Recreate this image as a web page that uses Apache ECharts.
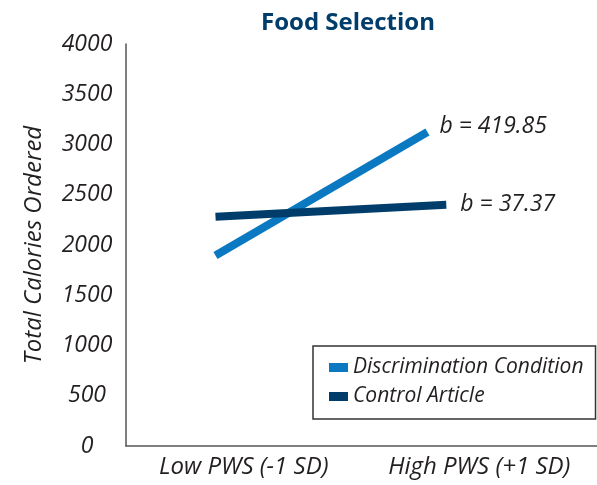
<!DOCTYPE html>
<html>
<head>
<meta charset="utf-8">
<script src="https://cdn.jsdelivr.net/npm/echarts@6/dist/echarts.min.js"></script>
<style>
html,body{margin:0;padding:0;background:#fff;}
#chart{width:597px;height:485px;}
</style>
</head>
<body>
<div id="chart"></div>
<script>
var categories = ['Low PWS (-1 SD)', 'High PWS (+1 SD)'];
var yTicks = [0, 500, 1000, 1500, 2000, 2500, 3000, 3500, 4000];
var seriesNames = ['Discrimination Condition', 'Control Article'];
var discrimX = [-0.12, 0.78];
var discrimY = [1895, 3125];
var controlX = [-0.12, 0.86];
var controlY = [2280, 2400];
var slopeLabels = ['b = 419.85', 'b = 37.37'];

var FONT = '"Open Sans", "Noto Sans", sans-serif';
var C1 = '#0a79c2';
var C2 = '#003d6b';

function pts(xs, ys) {
  return xs.map(function (x, i) { return [x, ys[i]]; });
}

var chart = echarts.init(document.getElementById('chart'), null, { renderer: 'canvas' });
chart.setOption({
  animation: false,
  backgroundColor: '#fff',
  title: {
    text: 'Food Selection', left: 343, top: 6, textAlign: 'center',
    textStyle: { fontFamily: FONT, fontWeight: 'bold', fontSize: 24, color: C2 }
  },
  legend: {
    orient: 'vertical', left: 313, top: 346,
    padding: [11, 12, 12, 16], itemGap: 8, itemWidth: 19, itemHeight: 9,
    borderColor: '#333', borderWidth: 1.5,
    icon: 'rect',
    textStyle: { fontFamily: FONT, fontStyle: 'italic', fontSize: 21, color: '#231f20' },
    data: seriesNames
  },
  grid: { left: 126, right: 0, top: 44, bottom: 39 },
  xAxis: [{
    type: 'category', data: categories, boundaryGap: true,
    axisLine: { lineStyle: { color: '#555', width: 1.5 } },
    axisTick: { show: false },
    axisLabel: { interval: 0, hideOverlap: false, fontFamily: FONT, fontStyle: 'italic', fontSize: 24, color: '#231f20', margin: 9 }
  }, {
    type: 'value', min: -0.5, max: 1.5, show: false
  }],
  yAxis: {
    type: 'value', min: 0, max: 4000, interval: 500,
    name: 'Total Calories Ordered', nameLocation: 'middle', nameGap: 70,
    nameTextStyle: { fontFamily: FONT, fontStyle: 'italic', fontSize: 24, color: '#231f20', padding: [0, 0, 10, 0] },
    axisLine: { show: true, onZero: false, lineStyle: { color: '#555', width: 1.5 } },
    axisTick: { show: false },
    splitLine: { show: false },
    axisLabel: {
      fontFamily: FONT, fontStyle: 'italic', fontSize: 23, color: '#231f20', align: 'center', margin: 39,
      formatter: function (v) { return yTicks.indexOf(v) >= 0 ? String(v) : ''; }
    }
  },
  series: [{
    name: seriesNames[0], type: 'line', xAxisIndex: 1,
    data: pts(discrimX, discrimY),
    symbol: 'none', lineStyle: { color: C1, width: 8, cap: 'butt' }, itemStyle: { color: C1 },
    endLabel: { show: true, formatter: slopeLabels[0], distance: 12, offset: [0, -5],
      fontFamily: FONT, fontStyle: 'italic', fontSize: 23, color: '#231f20' }
  }, {
    name: seriesNames[1], type: 'line', xAxisIndex: 1,
    data: pts(controlX, controlY),
    symbol: 'none', lineStyle: { color: C2, width: 8, cap: 'butt' }, itemStyle: { color: C2 },
    endLabel: { show: true, formatter: slopeLabels[1], distance: 14, offset: [0, 0],
      fontFamily: FONT, fontStyle: 'italic', fontSize: 23, color: '#231f20' }
  }]
});
</script>
</body>
</html>
